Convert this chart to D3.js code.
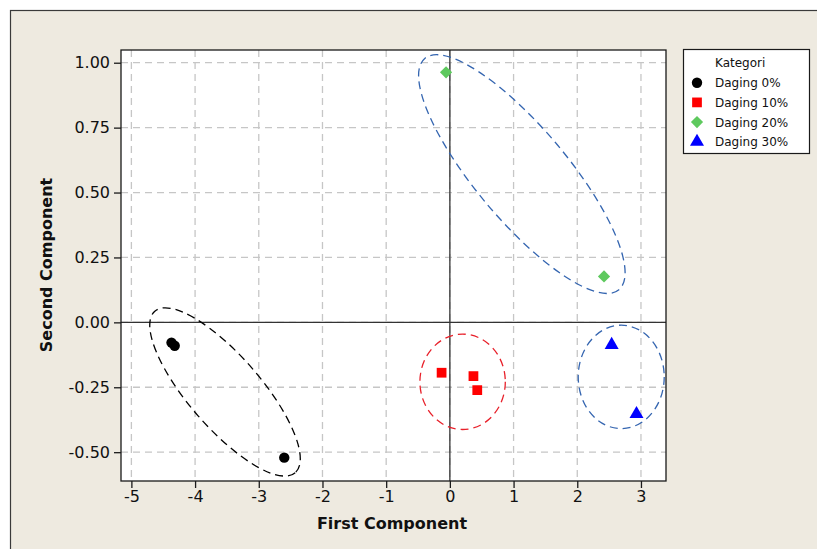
<!DOCTYPE html>
<html><head><meta charset="utf-8">
<script src="https://cdn.jsdelivr.net/npm/d3@7"></script>
<style>html,body{margin:0;padding:0;background:#fff;}svg{display:block;}</style>
</head><body>
<script>
const categories = ["Daging 0%", "Daging 10%", "Daging 20%", "Daging 30%"];
const firstComp = {
  "Daging 0%":  [-4.37, -4.32, -2.60],
  "Daging 10%": [-0.13, 0.37, 0.43],
  "Daging 20%": [-0.06, 2.42],
  "Daging 30%": [2.54, 2.93]
};
const secondComp = {
  "Daging 0%":  [-0.078, -0.09, -0.521],
  "Daging 10%": [-0.194, -0.207, -0.261],
  "Daging 20%": [0.963, 0.177],
  "Daging 30%": [-0.087, -0.353]
};
const xTicks = [-5, -4, -3, -2, -1, 0, 1, 2, 3];
const yTicks = [-0.50, -0.25, 0.00, 0.25, 0.50, 0.75, 1.00];
// group ellipses: centre in data units
const ellipseCat = ["Daging 0%", "Daging 10%", "Daging 20%", "Daging 30%"];
const ellipseCx = [-3.53, 0.20, 1.13, 2.69];
const ellipseCy = [-0.268, -0.229, 0.571, -0.21];

const W = 817, H = 549;
const plot = {left: 121, right: 666, top: 50, bottom: 481};
const colors = {"Daging 0%": "#000000", "Daging 10%": "#FF0000", "Daging 20%": "#5EC95E", "Daging 30%": "#0000FF"};
const ellipseColor = {"Daging 0%": "#000000", "Daging 10%": "#E8202A", "Daging 20%": "#3465B0", "Daging 30%": "#3465B0"};
const ellipseShape = {"Daging 0%": [107, 36, 49], "Daging 10%": [42.7, 47.7, 0], "Daging 20%": [151, 46, 50], "Daging 30%": [43, 51.7, 0]};
const diamondSym = d3.symbolDiamond2 || {draw(ctx, size){const r = Math.sqrt(size) * 0.62625; ctx.moveTo(0,-r); ctx.lineTo(r,0); ctx.lineTo(0,r); ctx.lineTo(-r,0); ctx.closePath();}};
const symbols = {"Daging 0%": d3.symbolCircle, "Daging 10%": d3.symbolSquare, "Daging 20%": diamondSym, "Daging 30%": d3.symbolTriangle};
const symSize = {"Daging 0%": 85, "Daging 10%": 95, "Daging 20%": 95, "Daging 30%": 85};

const x = d3.scaleLinear().domain([-5.163, 3.393]).range([plot.left, plot.right]);
const y = d3.scaleLinear().domain([-0.611, 1.049]).range([plot.bottom, plot.top]);

const svg = d3.select("body").append("svg").attr("width", W).attr("height", H);
const font = "'DejaVu Sans', Verdana, sans-serif";

svg.append("rect").attr("x", 10.5).attr("y", 10.5).attr("width", W + 10).attr("height", H + 10)
  .attr("fill", "#EEEAE0").attr("stroke", "#3a3a3a").attr("stroke-width", 1.2);

svg.append("rect").attr("x", plot.left).attr("y", plot.top)
  .attr("width", plot.right - plot.left).attr("height", plot.bottom - plot.top).attr("fill", "#fff");

// grid
const grid = svg.append("g");
grid.selectAll("line.gx").data(xTicks).join("line")
  .attr("x1", d => x(d)).attr("x2", d => x(d)).attr("y1", plot.top).attr("y2", plot.bottom)
  .attr("stroke", "#C6C6C6").attr("stroke-width", 1.3).attr("stroke-dasharray", "7,5");
grid.selectAll("line.gy").data(yTicks).join("line")
  .attr("y1", d => y(d)).attr("y2", d => y(d)).attr("x1", plot.left).attr("x2", plot.right)
  .attr("stroke", "#C6C6C6").attr("stroke-width", 1.3).attr("stroke-dasharray", "7,5");

// reference lines
svg.append("line").attr("x1", x(0)).attr("x2", x(0)).attr("y1", plot.top).attr("y2", plot.bottom)
  .attr("stroke", "#333").attr("stroke-width", 1.3);
svg.append("line").attr("y1", y(0)).attr("y2", y(0)).attr("x1", plot.left).attr("x2", plot.right)
  .attr("stroke", "#333").attr("stroke-width", 1.3);

// ellipses
ellipseCat.forEach((c, i) => {
  const [rx, ry, ang] = ellipseShape[c];
  svg.append("ellipse")
    .attr("transform", `translate(${x(ellipseCx[i])},${y(ellipseCy[i])}) rotate(${ang})`)
    .attr("rx", rx).attr("ry", ry).attr("fill", "none")
    .attr("stroke", ellipseColor[c]).attr("stroke-width", 1.3).attr("stroke-dasharray", "8,5");
});

// points
categories.forEach(c => {
  const pts = firstComp[c].map((v, i) => [v, secondComp[c][i]]);
  svg.append("g").selectAll("path").data(pts).join("path")
    .attr("transform", d => `translate(${x(d[0])},${y(d[1])})`)
    .attr("d", d3.symbol().type(symbols[c]).size(symSize[c]))
    .attr("fill", colors[c]);
});

// plot border
svg.append("rect").attr("x", plot.left).attr("y", plot.top)
  .attr("width", plot.right - plot.left).attr("height", plot.bottom - plot.top)
  .attr("fill", "none").attr("stroke", "#1a1a1a").attr("stroke-width", 1.3);

// axes
const xAxis = svg.append("g").attr("transform", `translate(0,${plot.bottom})`)
  .call(d3.axisBottom(x).tickValues(xTicks).tickSize(7).tickPadding(3).tickFormat(d3.format("d")));
const yAxis = svg.append("g").attr("transform", `translate(${plot.left},0)`)
  .call(d3.axisLeft(y).tickValues(yTicks).tickSize(7).tickPadding(4).tickFormat(d3.format(".2f")));
[xAxis, yAxis].forEach(a => {
  a.select(".domain").remove();
  a.selectAll(".tick line").attr("stroke", "#1a1a1a").attr("stroke-width", 1.3);
  a.selectAll(".tick text").attr("font-family", font).attr("font-size", 16).attr("fill", "#111");
});
xAxis.selectAll(".tick text").text(d => d < 0 ? "-" + Math.abs(d) : d);
yAxis.selectAll(".tick text").text(d => d < 0 ? "-" + d3.format(".2f")(Math.abs(d)) : d3.format(".2f")(d));

svg.append("text").attr("x", 392).attr("y", 529).attr("text-anchor", "middle")
  .attr("font-family", font).attr("font-size", 16).attr("font-weight", "bold").attr("fill", "#111")
  .text("First Component");
svg.append("text").attr("transform", "translate(52,265) rotate(-90)").attr("text-anchor", "middle")
  .attr("font-family", font).attr("font-size", 16).attr("font-weight", "bold").attr("fill", "#111")
  .text("Second Component");

// legend
const lg = svg.append("g");
lg.append("rect").attr("x", 683.5).attr("y", 49.5).attr("width", 126).attr("height", 104)
  .attr("fill", "#fff").attr("stroke", "#1a1a1a").attr("stroke-width", 1.2);
lg.append("text").attr("x", 715).attr("y", 67).attr("font-family", font).attr("font-size", 12).attr("fill", "#111")
  .text("Kategori");
categories.forEach((c, i) => {
  const cy = 82.7 + i * 19.7;
  lg.append("path").attr("transform", `translate(697,${cy})`)
    .attr("d", d3.symbol().type(symbols[c]).size(symSize[c])).attr("fill", colors[c]);
  lg.append("text").attr("x", 715).attr("y", cy + 4.5).attr("font-family", font).attr("font-size", 12)
    .attr("fill", "#111").text(c);
});
</script>
</body></html>
